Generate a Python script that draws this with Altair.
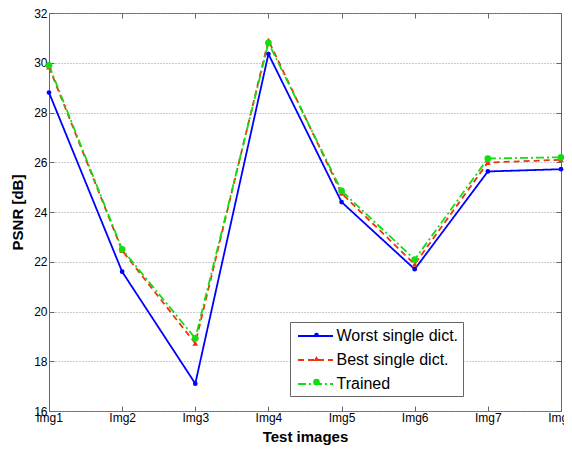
import altair as alt
import pandas as pd

images = ["Img1", "Img2", "Img3", "Img4", "Img5", "Img6", "Img7", "Img8"]
worst = [28.8, 21.6, 17.1, 30.35, 24.4, 21.7, 25.63, 25.72]
best = [29.83, 22.45, 18.72, 30.9, 24.75, 21.9, 25.99, 26.1]
trained = [29.9, 22.5, 18.92, 30.8, 24.85, 22.09, 26.15, 26.2]
series = ["Worst single dict.", "Best single dict.", "Trained"]
colors = ["#0000ff", "#ee3311", "#11dd11"]
dashes = [[1, 0], [6, 4], [8, 3, 2, 3]]
shapes = ["circle", "triangle-up", "circle"]
sizes = [22, 45, 14]
yticks = [16, 18, 20, 22, 24, 26, 28, 30, 32]

# marker keys: same names, tagged so the marker legend stays separate from the line legend
markers = [s + " (marker)" for s in series]

rows = []
for name, mk, vals in zip(series, markers, [worst, best, trained]):
    for img, v in zip(images, vals):
        rows.append({"img": img, "psnr": v, "series": name, "marker": mk})
df = pd.DataFrame(rows)

FONT = "Liberation Sans"
TICK = {"expr": "-5"}
FRAME = "#666666"

xscale = alt.Scale(type="point", padding=0, domain=images)
yscale = alt.Scale(domain=[16, 32], nice=False)

x = alt.X("img:N", sort=images, scale=xscale,
          axis=alt.Axis(title="Test images", labelAngle=0, ticks=True, tickSize=TICK, tickColor=FRAME,
                        domain=False, labelFontSize=12, titleFontSize=15, titleFont=FONT, labelFont=FONT,
                        titleFontWeight="bold", labelColor="black", titleColor="black",
                        labelPadding=6, titlePadding=6))
y = alt.Y("psnr:Q", scale=yscale,
          axis=alt.Axis(title="PSNR [dB]", values=yticks, grid=True,
                        gridDash=[1, 2], gridColor="#999999", gridWidth=1,
                        ticks=True, tickSize=TICK, tickColor=FRAME, domain=False,
                        labelFontSize=12, titleFontSize=15, titleFont=FONT, labelFont=FONT,
                        titleFontWeight="bold", labelColor="black", titleColor="black",
                        labelPadding=7, titlePadding=8))

LX, LY = 241, 309

lines = alt.Chart(df).mark_line(strokeWidth=1.8).encode(
    x=x, y=y,
    color=alt.Color("series:N", sort=series, scale=alt.Scale(domain=series, range=colors),
                    legend=alt.Legend(title=None, orient="none", legendX=LX, legendY=LY,
                                      symbolType="M-1.944,0H1.944", symbolSize=324, symbolStrokeWidth=1.8,
                                      symbolOffset=11.5,
                                      labelFontSize=16, labelFont=FONT, labelColor="black",
                                      strokeColor=FRAME, padding=4, rowPadding=6,
                                      fillColor="white", labelOffset=11, zindex=1)),
    strokeDash=alt.StrokeDash("series:N", sort=series, scale=alt.Scale(domain=series, range=dashes)),
)

pt_legend = alt.Legend(title=None, orient="none", legendX=LX, legendY=LY,
                       labelFontSize=16, labelFont=FONT, labelColor="transparent",
                       padding=5, rowPadding=7.5, symbolOffset=13.5, symbolStrokeWidth=0, zindex=2)

points = alt.Chart(df).mark_point(filled=True, opacity=1, strokeWidth=0).encode(
    x=x, y=y,
    fill=alt.Fill("marker:N", sort=markers, scale=alt.Scale(domain=markers, range=colors), legend=pt_legend),
    shape=alt.Shape("marker:N", sort=markers, scale=alt.Scale(domain=markers, range=shapes), legend=pt_legend),
    size=alt.Size("marker:N", sort=markers, scale=alt.Scale(domain=markers, range=sizes), legend=pt_legend),
)

frame_ticks = alt.Chart(df).mark_point(opacity=0).encode(
    x=alt.X("img:N", sort=images, scale=xscale,
            axis=alt.Axis(orient="top", title=None, labels=False, ticks=True, tickSize=TICK,
                          tickColor=FRAME, domain=False)),
    y=alt.Y("psnr:Q", scale=yscale,
            axis=alt.Axis(orient="right", title=None, labels=False, values=yticks, grid=False,
                          ticks=True, tickSize=TICK, tickColor=FRAME, domain=False)),
)

chart = alt.layer(alt.layer(lines, points), frame_ticks).resolve_scale(
    x="independent", y="independent"
).properties(
    width=512, height=398,
    padding={"left": 41, "top": 5, "right": 3, "bottom": 34},
    autosize=alt.AutoSizeParams(type="none"),
).configure_view(stroke=FRAME, strokeWidth=1)

chart.save("out.html", embed_options={"renderer": "svg", "actions": False})
